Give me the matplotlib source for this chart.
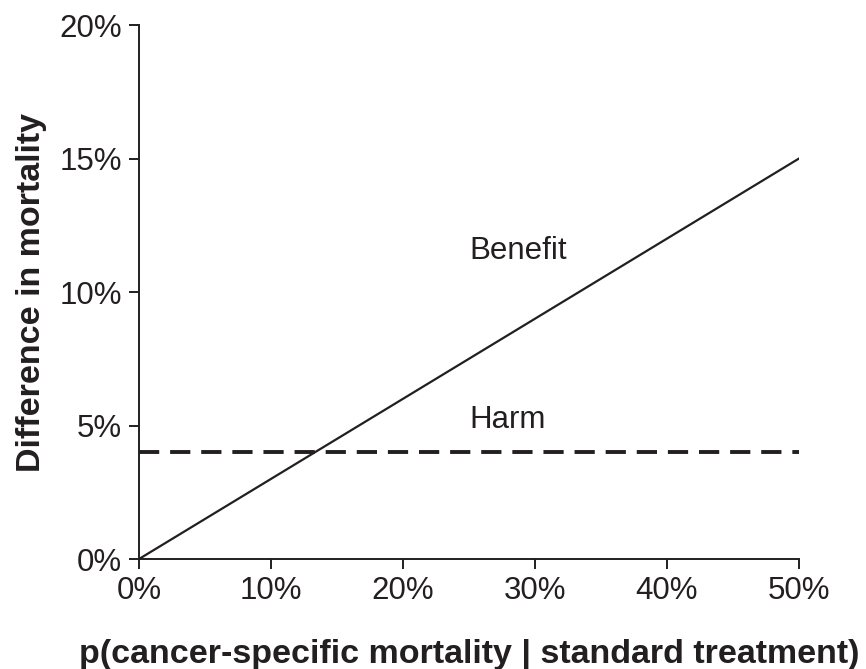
import matplotlib
matplotlib.use('Agg')
import matplotlib.pyplot as plt
from matplotlib.ticker import PercentFormatter

plt.rcParams['font.family'] = ['Liberation Sans', 'DejaVu Sans']

# data (fractions)
p_mortality = [0.0, 0.50]
benefit = [0.0, 0.15]
harm = [0.04, 0.04]
x_ticks = [0.0, 0.1, 0.2, 0.3, 0.4, 0.5]
y_ticks = [0.0, 0.05, 0.10, 0.15, 0.20]

ink = '#231f20'

fig = plt.figure(figsize=(8.66, 6.69), dpi=100)
ax = fig.add_axes([0.1605, 0.1644, 0.7621, 0.7982])

ax.plot(p_mortality, benefit, color=ink, linewidth=1.6)
ax.plot(p_mortality, harm, color=ink, linewidth=2.8, dashes=(5.2, 2.8))

ax.text(0.25, 0.1122, 'Benefit', fontsize=22.5, color=ink, ha='left', va='baseline')
ax.text(0.25, 0.0492, 'Harm', fontsize=22.5, color=ink, ha='left', va='baseline')

ax.set_xlim(0, 0.5)
ax.set_ylim(0, 0.20)
ax.set_xticks(x_ticks)
ax.set_yticks(y_ticks)
ax.xaxis.set_major_formatter(PercentFormatter(1.0, decimals=0))
ax.yaxis.set_major_formatter(PercentFormatter(1.0, decimals=0))

for s in ['top', 'right']:
    ax.spines[s].set_visible(False)
for s in ['left', 'bottom']:
    ax.spines[s].set_linewidth(1.4)
    ax.spines[s].set_color(ink)

ax.tick_params(direction='out', length=7, width=1.4, colors=ink,
               labelsize=22.5, pad=5)

ax.set_xlabel('p(cancer-specific mortality | standard treatment)',
              fontsize=24.5, fontweight='bold', color=ink, labelpad=24)
ax.set_ylabel('Difference in mortality', fontsize=24.5, fontweight='bold',
              color=ink, labelpad=9)

fig.savefig('out.png', dpi=100)
